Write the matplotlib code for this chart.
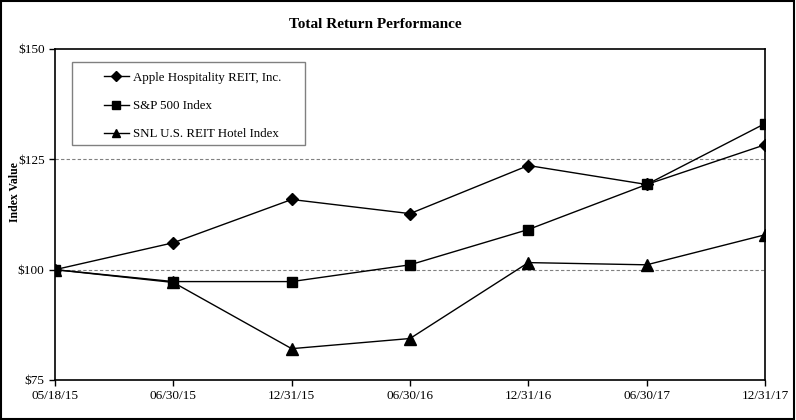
import matplotlib.pyplot as plt
from matplotlib.patches import Rectangle

dates = ["05/18/15", "06/30/15", "12/31/15", "06/30/16", "12/31/16", "06/30/17", "12/31/17"]
apple = [100.0, 106.1, 115.9, 112.7, 123.6, 119.3, 128.3]
sp500 = [100.0, 97.3, 97.3, 101.1, 109.1, 119.3, 133.1]
snl_hotel = [100.0, 97.1, 82.1, 84.4, 101.6, 101.1, 107.9]

plt.rcParams['font.family'] = ['Liberation Serif', 'DejaVu Serif']

fig = plt.figure(figsize=(7.96, 4.2), dpi=100)
ax = fig.add_axes([55 / 796, 1 - 380 / 420, 710 / 796, 331 / 420])

x = range(len(dates))
ax.plot(x, apple, color='black', lw=1, marker='D', ms=6, label='Apple Hospitality REIT, Inc.')
ax.plot(x, sp500, color='black', lw=1, marker='s', ms=7, label='S&P 500 Index')
ax.plot(x, snl_hotel, color='black', lw=1, marker='^', ms=8, label='SNL U.S. REIT Hotel Index')

ax.set_xlim(0, len(dates) - 1)
ax.set_ylim(75, 150)
ax.set_yticks([75, 100, 125, 150])
ax.set_yticklabels(['$75', '$100', '$125', '$150'])
ax.set_xticks(list(x))
ax.set_xticklabels(dates)
ax.tick_params(labelsize=9.5, direction='out', length=4, width=1, colors='black')
for s in ax.spines.values():
    s.set_linewidth(1.2)
for yv in [100, 125]:
    ax.axhline(yv, color='gray', lw=0.8, ls=(0, (3, 2)), zorder=0)

fig.text(15 / 796, 1 - 192 / 420, 'Index Value', fontsize=8.5, fontweight='bold',
         rotation=90, ha='center', va='center')
fig.text(375 / 796, 1 - 25 / 420, 'Total Return Performance', fontsize=11, fontweight='bold',
         ha='center', va='center')

# legend box drawn separately so the padding matches
ax.add_patch(Rectangle((0.0239, 0.710), 0.328, 0.251, transform=ax.transAxes,
                       fill=False, edgecolor='gray', lw=1, zorder=5))
ax.legend(loc='upper left', bbox_to_anchor=(0.069, 0.931), fontsize=9.3, frameon=False,
          handlelength=1.9, labelspacing=1.25, borderpad=0, handletextpad=0.35,
          borderaxespad=0, markerscale=0.8)

fig.patches.append(Rectangle((0.001, 0.002), 0.997, 0.995, transform=fig.transFigure,
                             fill=False, edgecolor='black', lw=1.5))

fig.savefig('out.png', dpi=100)
